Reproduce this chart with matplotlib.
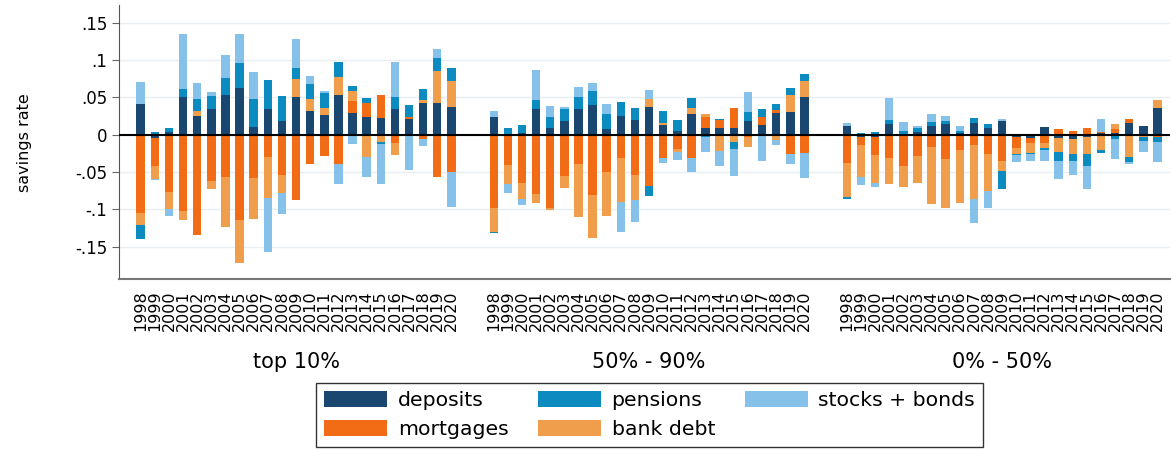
import numpy as np
import matplotlib
matplotlib.use("Agg")
import matplotlib.pyplot as plt
from matplotlib.transforms import blended_transform_factory

plt.rcParams['font.family'] = ['DejaVu Sans']

years = [str(y) for y in range(1998, 2021)]
groups = ['top 10%', '50% - 90%', '0% - 50%']
series = ['deposits', 'mortgages', 'bank debt', 'pensions', 'stocks + bonds']
colors = ['#1a476f', '#f26b15', '#f09e4c', '#0b8bc0', '#86c1ea']

# top 10%
dep_top10 = [0.0415, -0.0045, 0.0036, 0.0504, 0.0254, 0.0339, 0.0536, 0.063, 0.0107, 0.0344, 0.0183, 0.0504,
             0.0313, 0.0263, 0.0531, 0.0286, 0.0232, 0.0223, 0.0344, 0.0214, 0.0429, 0.0429, 0.0375]
mort_top10 = [-0.1045, -0.037, -0.0768, -0.1022, -0.1344, -0.0616, -0.0563, -0.1147, -0.0576, -0.0295, -0.054, -0.088,
              -0.0393, -0.0281, -0.0397, 0.017, 0.0196, 0.0308, -0.0107, 0.0018, -0.0058, -0.0567, -0.0496]
bank_top10 = [-0.0165, -0.018, -0.0228, -0.012, 0.0063, -0.0107, -0.0679, -0.0576, -0.0549, -0.0549, -0.0237, 0.0237,
              0.0165, 0.0098, 0.0246, 0.0134, -0.0304, -0.0094, -0.017, 0.0, 0.0036, 0.0429, 0.0339]
pens_top10 = [-0.0192, 0.003, 0.0058, 0.0103, 0.0156, 0.0183, 0.0223, 0.033, 0.037, 0.0388, 0.0339, 0.0147,
              0.0201, 0.0201, 0.0201, 0.0063, 0.0058, -0.0031, 0.0165, 0.0161, 0.0143, 0.017, 0.0183]
stock_top10 = [0.0295, -0.0015, -0.0094, 0.0737, 0.0219, 0.0045, 0.0313, 0.0384, 0.036, -0.0732, -0.029, 0.0388,
               0.0103, 0.0027, -0.0268, -0.0129, -0.0263, -0.0536, 0.046, -0.0469, -0.0094, 0.012, -0.0478]

# 50% - 90%
dep_mid = [0.0241, 0.0, 0.0022, 0.0339, 0.0094, 0.0188, 0.0339, 0.0397, 0.008, 0.0246, 0.0201, 0.0375,
           0.0125, 0.0054, 0.0277, 0.0094, 0.0094, 0.0094, 0.0188, 0.0134, 0.029, 0.0299, 0.0504]
mort_mid = [-0.0978, -0.0402, -0.0643, -0.0795, -0.0978, -0.0554, -0.0397, -0.0808, -0.0504, -0.0313, -0.054, -0.0688,
            -0.0317, -0.0192, -0.0308, 0.0143, 0.0103, 0.0268, -0.0027, 0.0098, 0.0045, -0.0259, -0.0246]
bank_mid = [-0.0321, -0.0254, -0.0219, -0.0116, -0.0036, -0.0161, -0.0705, -0.058, -0.0585, -0.0585, -0.0335, 0.0103,
            0.0036, -0.0045, 0.008, 0.004, -0.0219, -0.0098, -0.0134, 0.0, -0.0071, 0.0237, 0.0214]
pens_mid = [-0.0022, 0.0085, 0.0103, 0.0125, 0.0138, 0.0156, 0.0161, 0.0188, 0.0196, 0.0188, 0.0161, -0.0134,
            0.0152, 0.0138, 0.0129, -0.0036, 0.0013, -0.0094, 0.0116, 0.0107, 0.008, 0.0094, 0.0098]
stock_mid = [0.0071, -0.0129, -0.008, 0.0397, 0.0147, 0.0022, 0.0138, 0.0112, 0.0138, -0.0411, -0.029, 0.012,
             -0.0067, -0.0098, -0.0188, -0.0196, -0.0196, -0.0357, 0.0263, -0.0348, -0.0067, -0.0129, -0.0339]

# 0% - 50%
dep_bot = [0.0116, -0.003, -0.003, 0.0143, 0.001, 0.0036, 0.0116, 0.0147, 0.0027, 0.0161, 0.0094, 0.0183,
           -0.0036, -0.005, 0.0103, -0.004, -0.0058, -0.0036, 0.002, 0.0022, 0.0152, 0.012, 0.0362]
mort_bot = [-0.0379, -0.0112, -0.024, -0.0308, -0.0415, -0.0286, -0.0165, -0.0321, -0.0205, -0.0143, -0.0263, -0.0357,
            -0.0143, -0.0067, -0.0112, 0.008, 0.0045, 0.0089, 0.001, 0.0058, 0.0058, -0.0018, -0.0036]
bank_bot = [-0.046, -0.0424, -0.0375, -0.0348, -0.029, -0.0362, -0.0759, -0.0661, -0.0705, -0.0723, -0.0491, -0.0125,
            -0.008, -0.0125, -0.0067, -0.0188, -0.0205, -0.0228, -0.020, 0.0063, -0.0295, -0.0013, 0.0103]
pens_bot = [-0.0022, 0.0027, 0.004, 0.0054, 0.004, 0.0058, 0.0058, 0.0031, 0.0022, 0.0063, 0.0054, -0.0246,
            -0.0013, -0.0013, -0.0027, -0.0125, -0.0089, -0.0156, -0.0049, -0.0054, -0.0076, -0.0049, -0.0058]
stock_bot = [0.004, -0.0107, -0.0054, 0.0295, 0.012, 0.0018, 0.0103, 0.0076, 0.0071, -0.0313, -0.0228, 0.003,
             -0.0098, -0.0094, -0.0147, -0.0246, -0.0183, -0.0304, 0.018, -0.0268, -0.0027, -0.0156, -0.0272]

data = [
    [dep_top10, mort_top10, bank_top10, pens_top10, stock_top10],
    [dep_mid, mort_mid, bank_mid, pens_mid, stock_mid],
    [dep_bot, mort_bot, bank_bot, pens_bot, stock_bot],
]

fig = plt.figure(figsize=(11.71, 4.5), dpi=100)
ax = fig.add_axes([0.1012, 0.3793, 0.898, 0.6096])

n = len(years)
gap = 2
handles = {}
for g, block in enumerate(data):
    x = np.arange(n) + g * (n + gap)
    pos = np.zeros(n)
    neg = np.zeros(n)
    for s, vals in enumerate(block):
        v = np.array(vals)
        # positives stack upward, negatives stack downward, same order
        bottom = np.where(v >= 0, pos, neg)
        b = ax.bar(x, v, 0.6, bottom=bottom, color=colors[s], linewidth=0, zorder=2)
        if g == 0:
            handles[series[s]] = b
        pos = pos + np.where(v > 0, v, 0)
        neg = neg + np.where(v < 0, v, 0)

ax.axhline(0, color='black', lw=1.5, zorder=3)

ticks = [x + g * (n + gap) for g in range(3) for x in range(n)]
ax.set_xticks(ticks)
ax.set_xticklabels(years * 3, rotation=90, fontsize=11.5)
ax.tick_params(axis='x', length=0, pad=8)
ax.set_xlim(-1.57, 72.89)

ax.set_ylim(-0.1937, 0.1737)
yt = [0.15, 0.1, 0.05, 0, -0.05, -0.1, -0.15]
ax.set_yticks(yt)
ax.set_yticklabels(['.15', '.1', '.05', '0', '-.05', '-.1', '-.15'], fontsize=12)
ax.tick_params(axis='y', length=5, color='#666666', pad=3)
ax.set_ylabel('savings rate', fontsize=11.5, labelpad=31)
ax.yaxis.grid(True, color='#e8eef1', lw=1.0, zorder=0)
ax.set_axisbelow(True)

for side in ['top', 'right']:
    ax.spines[side].set_visible(False)
ax.spines['left'].set_color('#555555')
ax.spines['bottom'].set_color('#777777')
ax.spines['bottom'].set_linewidth(1.5)

trans = blended_transform_factory(ax.transData, fig.transFigure)
for g, name in enumerate(groups):
    ax.text(g * (n + gap) + (n - 1) / 2, 1 - 362 / 450, name, transform=trans,
            ha='center', va='center', fontsize=15)

# legend fills column-wise: (deposits, mortgages), (pensions, bank debt), (stocks + bonds)
leg_order = ['deposits', 'mortgages', 'pensions', 'bank debt', 'stocks + bonds']
leg = fig.legend([handles[k] for k in leg_order], leg_order, loc='upper center',
                 bbox_to_anchor=(649.5 / 1171, 1 - 383 / 450),
                 ncol=3, fontsize=14.7, frameon=True, fancybox=False, edgecolor='black',
                 handlelength=3.09, handleheight=0.83, handletextpad=0.52, columnspacing=1.45,
                 labelspacing=0.5, borderpad=0.38, borderaxespad=0)
leg.get_frame().set_linewidth(1.0)

fig.savefig('out.png', dpi=100)
